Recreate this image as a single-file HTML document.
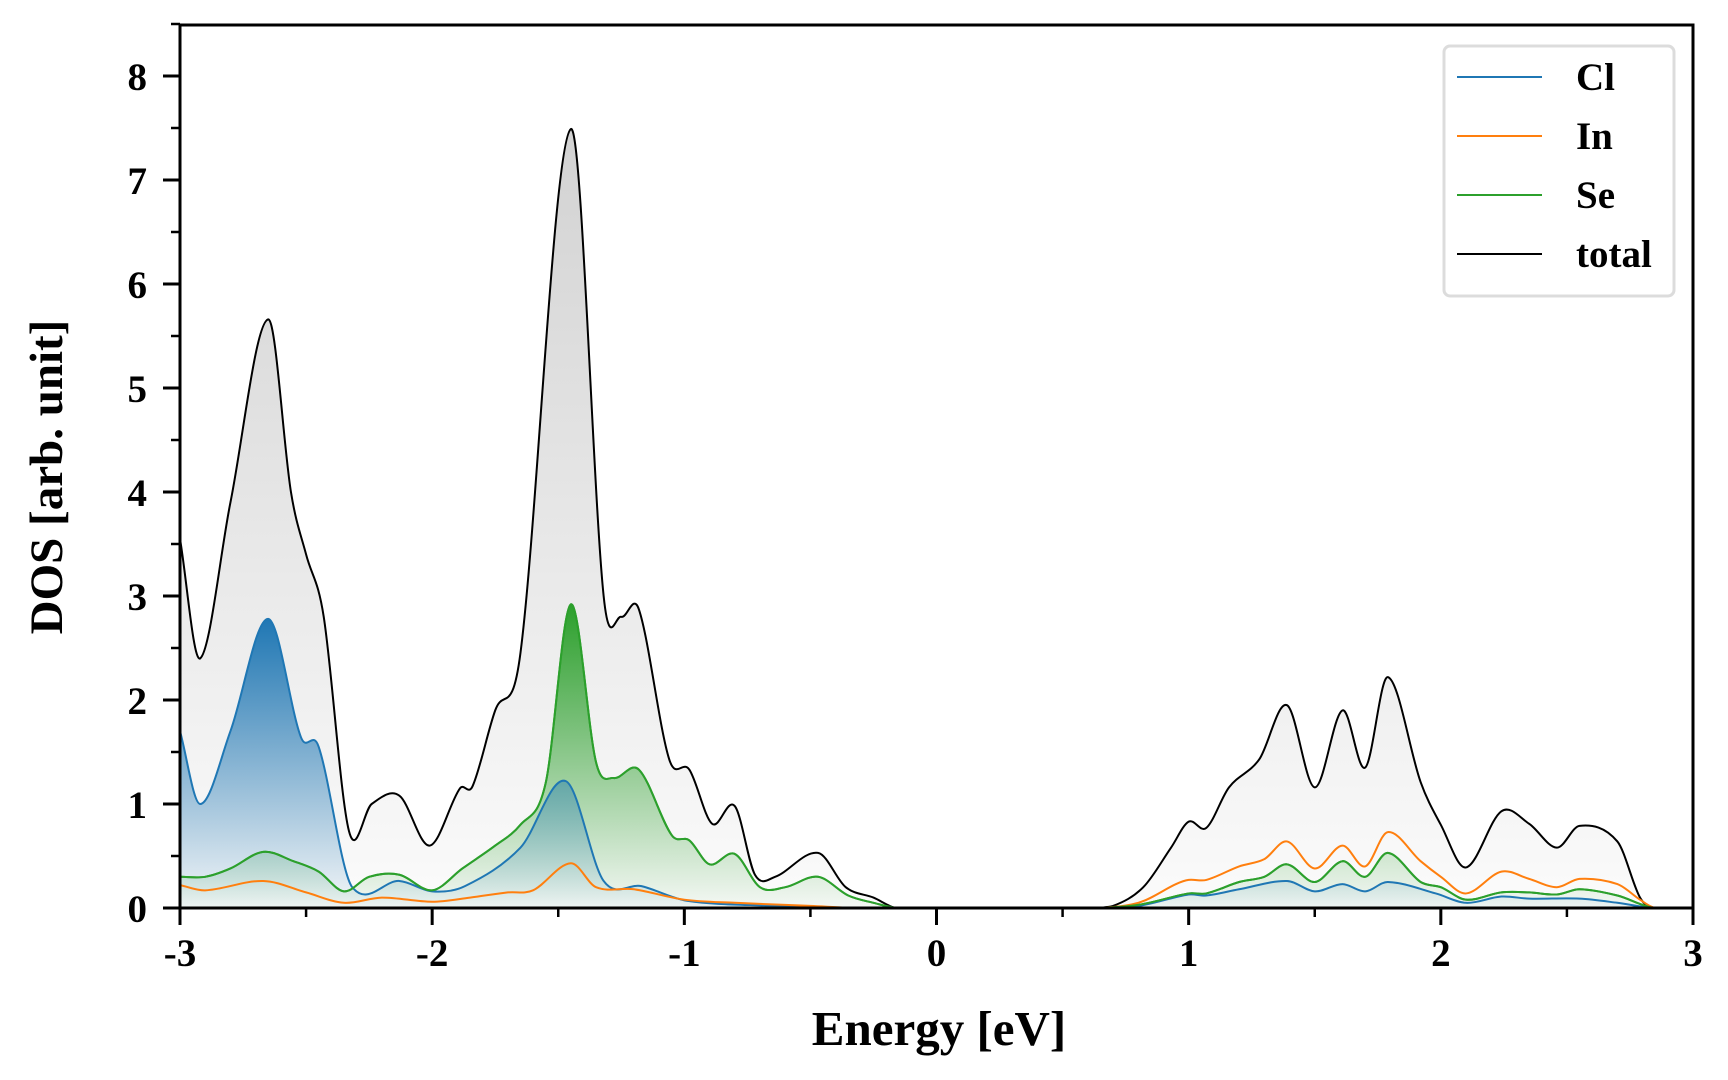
<!DOCTYPE html>
<html><head><meta charset="utf-8">
<style>
html,body{margin:0;padding:0;background:#fff;}
svg{display:block;}
text{font-family:"Liberation Serif",serif;font-weight:bold;fill:#000;}
</style></head>
<body>
<svg id="chart" width="1728" height="1080" viewBox="0 0 1728 1080">
<defs>
<linearGradient id="gTotal" gradientUnits="userSpaceOnUse" x1="0" y1="128" x2="0" y2="908">
<stop offset="0" stop-color="#d2d2d2"/><stop offset="1" stop-color="#fbfbfb"/></linearGradient>
<linearGradient id="gCl" gradientUnits="userSpaceOnUse" x1="0" y1="618" x2="0" y2="908">
<stop offset="0" stop-color="#1f77b4" stop-opacity="1"/><stop offset="1" stop-color="#1f77b4" stop-opacity="0.03"/></linearGradient>
<linearGradient id="gSe" gradientUnits="userSpaceOnUse" x1="0" y1="604" x2="0" y2="908">
<stop offset="0" stop-color="#2ca02c" stop-opacity="1"/><stop offset="1" stop-color="#2ca02c" stop-opacity="0.03"/></linearGradient>
<clipPath id="plotClip"><rect x="180" y="25" width="1513" height="883"/></clipPath>
</defs>
<g id="fills" clip-path="url(#plotClip)"></g>
<g id="lines" clip-path="url(#plotClip)"></g>
<g id="axes"></g>
<text x="939" y="1045" font-size="49" text-anchor="middle">Energy [eV]</text>
<text transform="translate(62,477) rotate(-90)" font-size="47" text-anchor="middle">DOS [arb. unit]</text>
<g>
<rect x="1444" y="46" width="230" height="250" rx="6" fill="#fff" stroke="#dcdcdc" stroke-width="3"/>
<g><line x1="1457" y1="77" x2="1542" y2="77" stroke="#1f77b4" stroke-width="2"/><text x="1576" y="90" font-size="39">Cl</text></g>
<g><line x1="1457" y1="136" x2="1542" y2="136" stroke="#ff7f0e" stroke-width="2"/><text x="1576" y="149" font-size="39">In</text></g>
<g><line x1="1457" y1="195" x2="1542" y2="195" stroke="#2ca02c" stroke-width="2"/><text x="1576" y="208" font-size="39">Se</text></g>
<g><line x1="1457" y1="254" x2="1542" y2="254" stroke="#000" stroke-width="2"/><text x="1576" y="267" font-size="39">total</text></g>
</g>
</svg>
<script>
const totalE=[-3,-2.92,-2.8,-2.65,-2.56,-2.5,-2.43,-2.33,-2.24,-2.13,-2.01,-1.89,-1.84,-1.75,-1.65,-1.45,-1.32,-1.25,-1.18,-1.06,-0.98,-0.89,-0.8,-0.72,-0.64,-0.47,-0.36,-0.25,-0.16,0,0.6,0.7,0.82,0.93,1.0,1.07,1.16,1.28,1.39,1.5,1.61,1.7,1.79,1.92,2.0,2.1,2.24,2.35,2.46,2.55,2.7,2.79,2.85,3];
const totalV=[3.55,2.4,3.9,5.66,4.0,3.4,2.8,0.74,1.0,1.08,0.6,1.15,1.17,1.9,2.45,7.49,3.0,2.8,2.87,1.43,1.33,0.81,0.98,0.32,0.3,0.53,0.2,0.1,0,0,0,0.02,0.2,0.58,0.83,0.77,1.16,1.43,1.95,1.16,1.9,1.35,2.22,1.21,0.8,0.39,0.93,0.81,0.58,0.79,0.64,0.1,0,0];
const clE=[-3,-2.92,-2.8,-2.65,-2.52,-2.45,-2.32,-2.13,-2.0,-1.87,-1.65,-1.47,-1.32,-1.17,-0.99,-0.64,-0.38,0.6,0.8,1.0,1.07,1.2,1.39,1.5,1.61,1.7,1.79,1.98,2.1,2.24,2.35,2.55,2.7,2.84,3];
const clV=[1.7,1.0,1.7,2.78,1.64,1.55,0.21,0.26,0.16,0.21,0.58,1.22,0.26,0.21,0.07,0.02,0,0,0.02,0.13,0.12,0.18,0.26,0.16,0.23,0.16,0.25,0.14,0.05,0.11,0.09,0.09,0.05,0,0];
const inE=[-3,-2.9,-2.67,-2.5,-2.35,-2.2,-2.0,-1.85,-1.7,-1.6,-1.45,-1.35,-1.2,-1.0,-0.8,-0.5,-0.3,0.6,0.8,0.95,1.0,1.07,1.2,1.3,1.39,1.5,1.61,1.7,1.79,1.92,2.0,2.1,2.24,2.35,2.46,2.55,2.7,2.79,2.85,3];
const inV=[0.22,0.17,0.26,0.15,0.05,0.1,0.06,0.1,0.15,0.17,0.43,0.2,0.18,0.08,0.05,0.02,0,0,0.05,0.23,0.27,0.27,0.4,0.47,0.64,0.38,0.6,0.4,0.73,0.45,0.3,0.14,0.35,0.28,0.2,0.28,0.23,0.08,0,0];
const seE=[-3,-2.9,-2.8,-2.67,-2.55,-2.45,-2.35,-2.25,-2.13,-2.0,-1.88,-1.75,-1.65,-1.55,-1.45,-1.35,-1.28,-1.18,-1.05,-0.98,-0.9,-0.8,-0.7,-0.6,-0.47,-0.35,-0.25,-0.15,0.6,0.8,1.0,1.07,1.2,1.3,1.39,1.5,1.61,1.7,1.79,1.92,2.0,2.1,2.24,2.35,2.46,2.55,2.7,2.8,2.85,3];
const seV=[0.3,0.3,0.38,0.54,0.45,0.35,0.16,0.3,0.32,0.17,0.38,0.6,0.8,1.2,2.92,1.4,1.25,1.33,0.7,0.65,0.42,0.52,0.2,0.2,0.3,0.12,0.05,0,0,0.03,0.14,0.14,0.25,0.3,0.42,0.25,0.45,0.3,0.53,0.25,0.2,0.08,0.15,0.15,0.13,0.18,0.12,0.03,0,0];
const xTicks=[-3,-2,-1,0,1,2,3];
const yTicks=[0,1,2,3,4,5,6,7,8];

const X0=180,X1=1693,Y0=908,Y1=25;
const xs=e=>X0+(e+3)/6*(X1-X0);
const ys=v=>Y0-v*104;
const NS="http://www.w3.org/2000/svg";
function mk(tag,attrs,parent){const el=document.createElementNS(NS,tag);for(const k in attrs)el.setAttribute(k,attrs[k]);parent.appendChild(el);return el;}
function pathD(E,V){
  const p=E.map((e,i)=>[xs(e),ys(V[i])]);
  const n=p.length,m=[];
  for(let i=0;i<n;i++){
    const a=p[Math.max(0,i-1)],c=p[Math.min(n-1,i+1)];
    m.push((c[1]-a[1])/(c[0]-a[0]));
  }
  let d="M"+p[0][0]+","+p[0][1];
  for(let i=0;i<n-1;i++){
    const b=p[i],c=p[i+1],dx=(c[0]-b[0])/3;
    let c1y=Math.min(b[1]+m[i]*dx,Y0),c2y=Math.min(c[1]-m[i+1]*dx,Y0);
    d+=" C"+(b[0]+dx)+","+c1y+" "+(c[0]-dx)+","+c2y+" "+c[0]+","+c[1];
  }
  return d;
}
const fills=document.getElementById('fills'),lines=document.getElementById('lines'),axes=document.getElementById('axes');
function series(name,E,V,color,fill){
  const d=pathD(E,V);
  if(fill){
    const f=mk('path',{d:d+" L"+xs(E[E.length-1])+","+Y0+" L"+xs(E[0])+","+Y0+" Z",fill:fill,stroke:'none'},fills);
    
    
  }
  const l=mk('path',{d:d,fill:'none',stroke:color,'stroke-width':2},lines);
  
  
}
series('total',totalE,totalV,'#000','url(#gTotal)');
series('se',seE,seV,'#2ca02c','url(#gSe)');
series('cl',clE,clV,'#1f77b4','url(#gCl)');
series('in',inE,inV,'#ff7f0e',null);
series('se',seE,seV,'#2ca02c',null);

const frame=mk('rect',{x:X0,y:Y1,width:X1-X0,height:Y0-Y1,fill:'none',stroke:'#000','stroke-width':3},axes);


xTicks.forEach(t=>{
  const x=xs(t);
  mk('line',{x1:x,y1:Y0,x2:x,y2:Y0+17,stroke:'#000','stroke-width':3},axes);
  const tx=mk('text',{x:x,y:Y0+58,'font-size':39,'text-anchor':'middle'},axes);
  tx.textContent=t;
  
  
  if(t<3)mk('line',{x1:xs(t+0.5),y1:Y0,x2:xs(t+0.5),y2:Y0+9,stroke:'#000','stroke-width':2.5},axes);
});
yTicks.forEach(t=>{
  const y=ys(t);
  mk('line',{x1:X0,y1:y,x2:X0-17,y2:y,stroke:'#000','stroke-width':3},axes);
  const ty=mk('text',{x:X0-33,y:y+14,'font-size':39,'text-anchor':'end'},axes);
  ty.textContent=t;
  
  
  mk('line',{x1:X0,y1:ys(t+0.5),x2:X0-9,y2:ys(t+0.5),stroke:'#000','stroke-width':2.5},axes);
});
</script>
</body></html>
